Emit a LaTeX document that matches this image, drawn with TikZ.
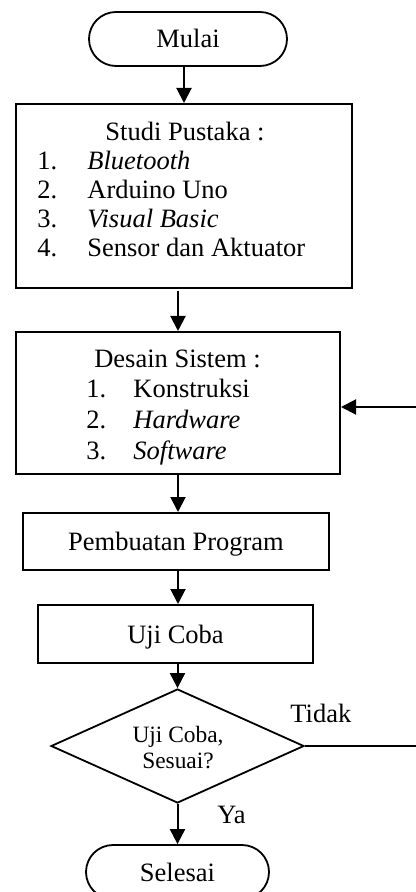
\documentclass[tikz,border=0pt]{standalone}
\usepackage{fontspec}
\setmainfont{Liberation Serif}
\usetikzlibrary{arrows.meta,shapes.geometric}
\begin{document}
\begin{tikzpicture}[x=0.5pt,y=-0.5pt,
  font=\fontsize{13.25}{14.5}\selectfont,
  box/.style={draw, line width=1pt, inner sep=0pt, text height=9pt, text depth=0pt},
  term/.style={draw, line width=0.9pt, rounded corners=13.5pt, inner sep=0pt,
    minimum height=27pt, text height=9pt, text depth=0pt},
  decision/.style={draw, diamond, line width=0.9pt, inner sep=0pt},
  lbl/.style={inner sep=0pt, anchor=base},
  item/.style={inner sep=0pt, anchor=base west},
  small/.style={font=\fontsize{11.7}{13}\selectfont},
  flow/.style={line width=1pt, -{Triangle[length=7.5pt,width=7.5pt]}},
  plain/.style={line width=0.6pt}]
\useasboundingbox (0,0) rectangle (416,892);

% start
\node[term, minimum width=99pt] (mulai) at (188,39) {Mulai};

% literature study
\node[box, minimum width=168pt, minimum height=92pt] (studi) at (184,196) {};
\node[lbl] (studiH) at (185,141) {Studi Pustaka :};
\node[item] (s1n) at (37,170) {1.};
\node[item] (s1) at (87,170) {\itshape Bluetooth};
\node[item] (s2n) at (37,199) {2.};
\node[item] (s2) at (87,199) {Arduino Uno};
\node[item] (s3n) at (37,228) {3.};
\node[item] (s3) at (87,228) {\itshape Visual Basic};
\node[item] (s4n) at (37,257) {4.};
\node[item] (s4) at (87,257) {Sensor dan Aktuator};

% system design
\node[box, minimum width=162pt, minimum height=71pt] (desain) at (178,403) {};
\node[lbl] (desainH) at (177.5,368) {Desain Sistem :};
\node[item] (d1n) at (86,397) {1.};
\node[item] (d1) at (133,397) {Konstruksi};
\node[item] (d2n) at (86,428) {2.};
\node[item] (d2) at (133,428) {\itshape Hardware};
\node[item] (d3n) at (86,459) {3.};
\node[item] (d3) at (133,459) {\itshape Software};

% programming and testing
\node[box, minimum width=153pt, minimum height=28.5pt] (prog) at (176,541.5) {Pembuatan Program};
\node[box, minimum width=137.5pt, minimum height=29pt] (uji) at (175.5,634) {Uji Coba};

% decision
\node[decision, minimum width=126.5pt, minimum height=57pt] (cek) at (177.5,746) {};
\node[lbl, small] (cek1) at (178,742) {Uji Coba,};
\node[lbl, small] (cek2) at (178,768) {Sesuai?};

% end
\node[term, minimum width=91.5pt] (selesai) at (177.5,872) {Selesai};

% branch labels
\node[item] (tidak) at (290,722) {Tidak};
\node[item] (ya) at (217,823) {Ya};

% return path
\coordinate (retIn) at (417,407);
\coordinate (retOut) at (417,746);

% connectors
\draw[flow] (studi.north |- mulai.south) -- (studi.north);
\draw[flow] ([yshift=-1pt]studi.south -| desain.north) -- (desain.north);
\draw[flow] (desain.south) -- (desain.south |- prog.north);
\draw[flow] (prog.south -| desain.south) -- (uji.north -| desain.south);
\draw[flow] (uji.south -| cek.north) -- (cek.north);
\draw[flow] (cek.south) -- (cek.south |- selesai.north);
\draw[plain] (cek.east) -- (retOut);
\draw[flow] (retIn) -- (retIn -| desain.east);
\end{tikzpicture}
\end{document}
